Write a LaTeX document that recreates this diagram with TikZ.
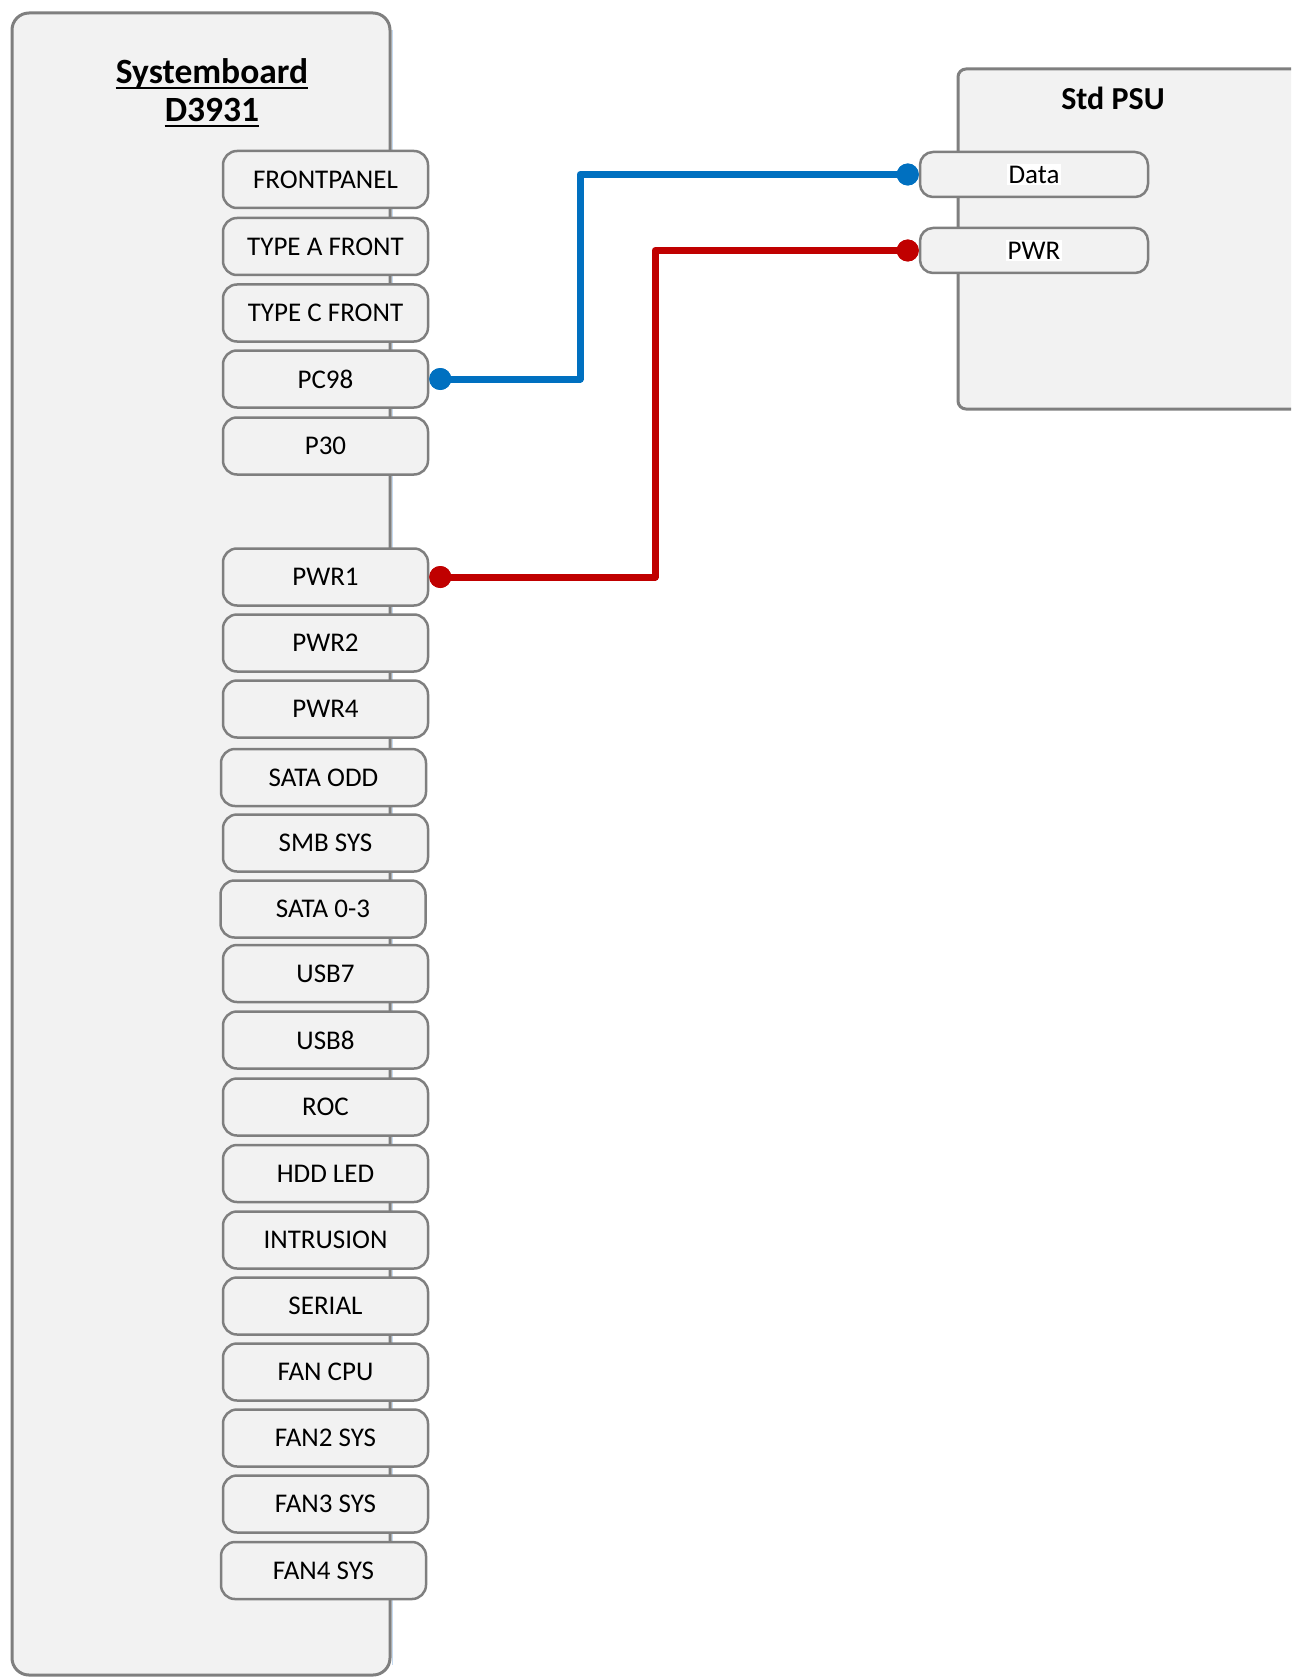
\documentclass[tikz,border=0pt]{standalone}
\usepackage{fontspec}
\setmainfont{Carlito}
\definecolor{bordergray}{HTML}{7F7F7F}
\definecolor{boxfill}{HTML}{F2F2F2}
\definecolor{wireblue}{HTML}{0070C0}
\definecolor{wirered}{HTML}{C00000}
\definecolor{shadowblue}{HTML}{C5DAF0}
\begin{document}
\begin{tikzpicture}[x=1pt,y=-1pt,
  board/.style={draw=bordergray, line width=3pt, fill=boxfill},
  conn/.style={draw=bordergray, line width=2.5pt, fill=boxfill, rounded corners=14pt,
    minimum width=205pt, minimum height=57pt, inner sep=0pt,
    font=\fontsize{27}{32}\selectfont},
  psuport/.style={draw=bordergray, line width=2.5pt, fill=boxfill, rounded corners=13pt,
    minimum width=228pt, minimum height=45pt, inner sep=0pt},
  portlabel/.style={fill=white, inner sep=2pt, font=\fontsize{27}{32}\selectfont},
  title/.style={font=\bfseries\fontsize{35.5}{40}\selectfont, inner sep=0pt, anchor=base},
  psutitle/.style={font=\bfseries\fontsize{32}{36}\selectfont, inner sep=0pt, anchor=base},
  ul/.style={line width=2.2pt},
  bluewire/.style={draw=wireblue, line width=7pt, line join=round},
  redwire/.style={draw=wirered, line width=7pt, line join=round},
  bdot/.style={circle, fill=wireblue, minimum size=22pt, inner sep=0pt},
  rdot/.style={circle, fill=wirered, minimum size=22pt, inner sep=0pt}
]
\useasboundingbox (0,0) rectangle (1291,1677);
\clip (0,0) rectangle (1291,1677);

% boards
\draw[shadowblue, line width=1.5pt] (392.5,30) -- (392.5,1665);
\draw[board, rounded corners=17pt] (12,13) rectangle (390,1675);
\draw[board, rounded corners=8pt] (958,69) rectangle (1330,409);

% titles
\node[title] (sbt1) at (212,84) {Systemboard};
\node[title] (sbt2) at (212,122) {D3931};
\draw[ul] ([yshift=-4pt]sbt1.base west) -- ([yshift=-4pt]sbt1.base east);
\draw[ul] ([yshift=-4pt]sbt2.base west) -- ([yshift=-4pt]sbt2.base east);
\node[psutitle] (psut) at (1113,110) {Std PSU};

% systemboard connectors
\node[conn] (frontpanel) at (325.5,179.5) {FRONTPANEL};
\node[conn] (typea) at (325.5,246.5) {TYPE A FRONT};
\node[conn] (typec) at (325.5,313) {TYPE C FRONT};
\node[conn] (pc98) at (325.5,379) {PC98};
\node[conn] (p30) at (325.5,446) {P30};
\node[conn] (pwr1) at (325.5,577) {PWR1};
\node[conn] (pwr2) at (325.5,643) {PWR2};
\node[conn] (pwr4) at (325.5,709) {PWR4};
\node[conn] (sataodd) at (323.5,777.5) {SATA ODD};
\node[conn] (smbsys) at (325.5,843) {SMB SYS};
\node[conn] (sata03) at (323,909) {SATA 0-3};
\node[conn] (usb7) at (325.5,973.5) {USB7};
\node[conn] (usb8) at (325.5,1040) {USB8};
\node[conn] (roc) at (325.5,1107) {ROC};
\node[conn] (hddled) at (325.5,1173.5) {HDD LED};
\node[conn] (intrusion) at (325.5,1240) {INTRUSION};
\node[conn] (serial) at (325.5,1306) {SERIAL};
\node[conn] (fancpu) at (325.5,1372) {FAN CPU};
\node[conn] (fan2) at (325.5,1438) {FAN2 SYS};
\node[conn] (fan3) at (325.5,1504) {FAN3 SYS};
\node[conn] (fan4) at (323.5,1570.5) {FAN4 SYS};

% PSU connectors
\node[psuport] (data) at (1034,174.5) {};
\node[portlabel] (datal) at (data.center) {Data};
\node[psuport] (pwr) at (1034,250.5) {};
\node[portlabel] (pwrl) at (pwr.center) {PWR};

% dots
\node[bdot] (pc98dot) at ([xshift=11pt]pc98.east) {};
\node[bdot] (datadot) at ([xshift=-11pt]data.west) {};
\node[rdot] (pwr1dot) at ([xshift=11pt]pwr1.east) {};
\node[rdot] (pwrdot) at ([xshift=-11pt]pwr.west) {};

% wires
\coordinate (bluebend) at (580,0);
\coordinate (redbend) at (655,0);
\draw[bluewire] (pc98dot.center) -| (bluebend |- datadot.center) -- (datadot.center);
\draw[redwire] (pwr1dot.center) -| (redbend |- pwrdot.center) -- (pwrdot.center);
\node[bdot] at (pc98dot) {};
\node[bdot] at (datadot) {};
\node[rdot] at (pwr1dot) {};
\node[rdot] at (pwrdot) {};
\end{tikzpicture}
\end{document}
